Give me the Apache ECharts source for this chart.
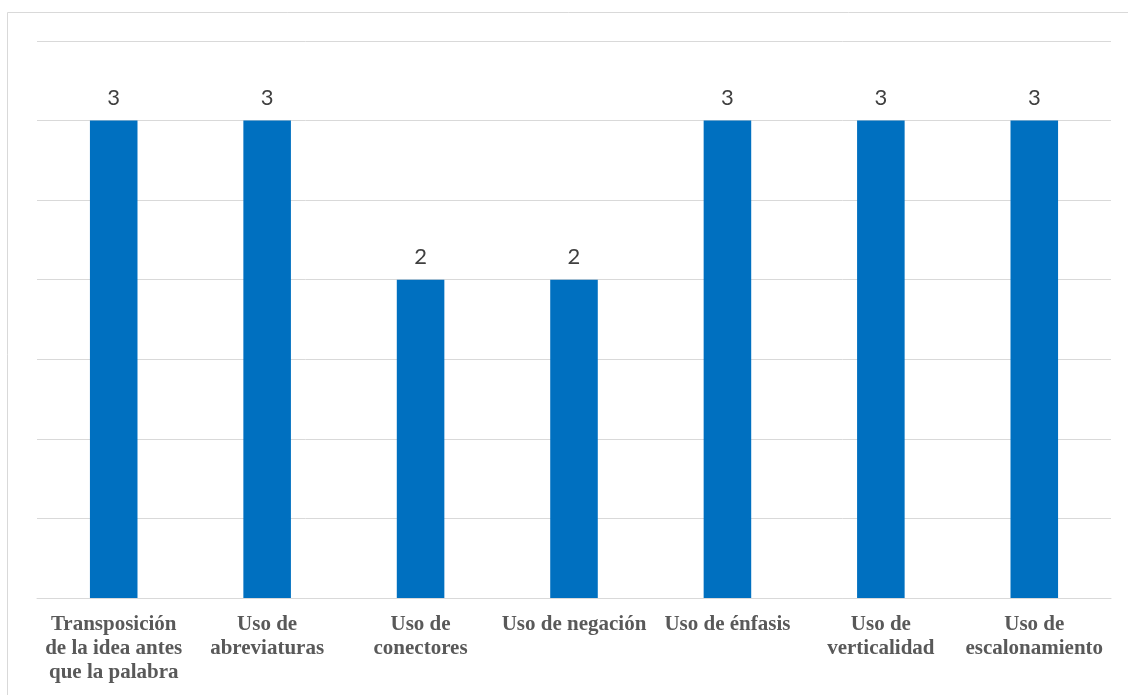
<!DOCTYPE html>
<html>
<head>
<meta charset="utf-8">
<script src="https://cdn.jsdelivr.net/npm/echarts@6/dist/echarts.min.js"></script>
<style>
  html, body { margin: 0; padding: 0; background: #ffffff; }
  #chart { width: 1128px; height: 695px; }
</style>
</head>
<body>
<div id="chart"></div>
<script>
// Categories (line breaks as they wrap under each bar)
const categories = [
  'Transposición\nde la idea antes\nque la palabra',
  'Uso de\nabreviaturas',
  'Uso de\nconectores',
  'Uso de negación',
  'Uso de énfasis',
  'Uso de\nverticalidad',
  'Uso de\nescalonamiento'
];
const values = [3, 3, 2, 2, 3, 3, 3];

const chart = echarts.init(document.getElementById('chart'), null, { renderer: 'canvas' });

chart.setOption({
  animation: false,
  backgroundColor: '#ffffff',
  graphic: [{
    type: 'rect',
    shape: { x: 7.5, y: 12.5, width: 1140, height: 720 },
    style: { fill: 'none', stroke: '#d9d9d9', lineWidth: 1 },
    silent: true
  }],
  grid: { left: 37, right: 17, top: 41, bottom: 97, containLabel: false },
  xAxis: {
    type: 'category',
    data: categories,
    axisLine: { show: true, lineStyle: { color: '#d9d9d9', width: 1 } },
    axisTick: { show: false },
    axisLabel: {
      interval: 0,
      margin: 15,
      color: '#595959',
      fontFamily: 'Liberation Serif',
      fontWeight: 'bold',
      fontSize: 21,
      lineHeight: 24
    }
  },
  yAxis: {
    type: 'value',
    min: 0,
    max: 3.5,
    interval: 0.5,
    axisLine: { show: false },
    axisTick: { show: false },
    axisLabel: { show: false },
    splitLine: { show: true, lineStyle: { color: '#d9d9d9', width: 1 } }
  },
  series: [{
    type: 'bar',
    data: values,
    barWidth: '31%',
    itemStyle: { color: '#0070C0' },
    label: {
      show: true,
      position: 'top',
      distance: 12,
      color: '#404040',
      fontFamily: 'Lato',
      fontSize: 22
    }
  }]
});
</script>
</body>
</html>
